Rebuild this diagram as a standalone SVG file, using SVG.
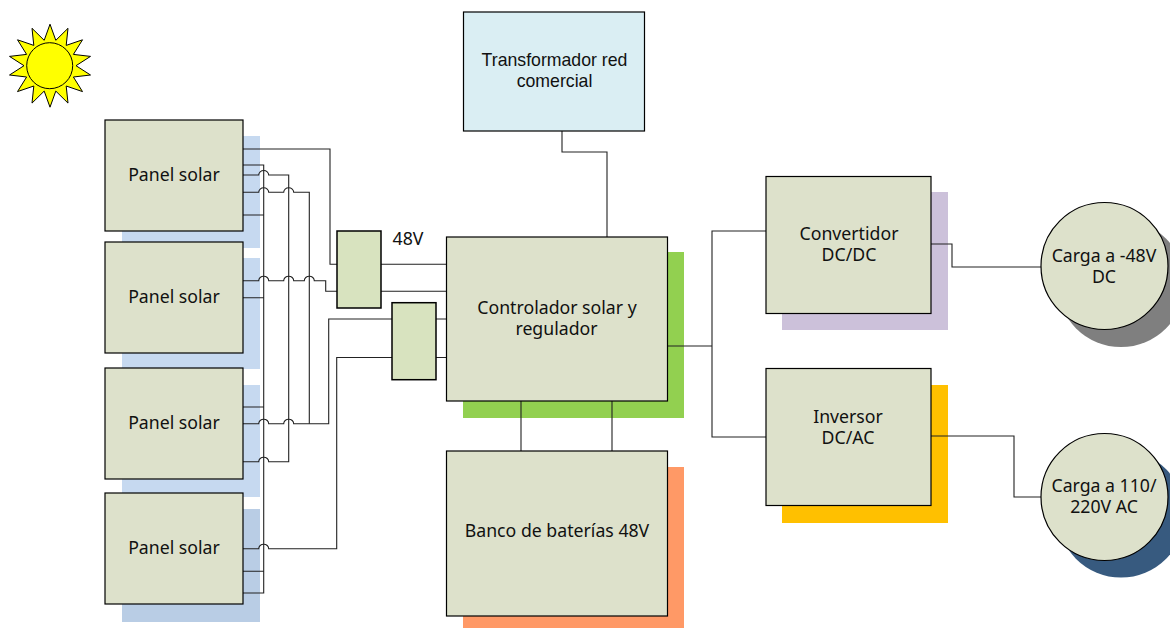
<svg xmlns="http://www.w3.org/2000/svg" width="1170" height="628" viewBox="0 0 1170 628">
<style>
.b{fill:#dde1cb;stroke:#000;stroke-width:1.2}
.g{fill:#d8e3bf;stroke:#000;stroke-width:1.5}
.w{fill:none;stroke:#222;stroke-width:1.1}
text{font-family:"Noto Sans","Open Sans",sans-serif;font-size:17.7px;fill:#111;text-anchor:middle}
.a{font-family:"Liberation Sans",Arial,sans-serif;font-size:17.7px}
</style>
<g id="sun"><polygon fill="#ffff00" stroke="#000" stroke-width="1" points="50,24.200 55.800,40.300 68,28.300 66.200,45.400 82.500,39.800 73.400,54.400 90.500,56.400 76,65.700 90.500,75 73.400,77 82.500,91.600 66.200,86 68,103.100 55.800,91.100 50,107.200 44.200,91.100 32,103.100 33.800,86 17.500,91.600 26.600,77 9.500,75 24,65.700 9.500,56.400 26.600,54.400 17.500,39.800 33.800,45.400 32,28.300 44.200,40.300"/><circle cx="49.700" cy="65.700" r="23" fill="#ffff00" stroke="#000" stroke-width="1"/></g>
<g id="shadows">
<rect x="122" y="136" width="138" height="112" fill="#c6d9f0"/>
<rect x="122" y="258" width="138" height="111" fill="#c6d9f0"/>
<rect x="122" y="385" width="138" height="112" fill="#c6d9f0"/>
<rect x="122" y="509" width="138" height="113" fill="#b9cde5"/>
<rect x="463" y="252" width="221" height="166" fill="#92d050"/>
<rect x="463" y="467" width="221" height="161" fill="#ff9966"/>
<rect x="782" y="192" width="166" height="138" fill="#ccc1da"/>
<rect x="782" y="385" width="166" height="138" fill="#ffc000"/>
<circle cx="1121" cy="283.500" r="63.500" fill="#7f7f7f"/>
<circle cx="1121" cy="514" r="63.500" fill="#375a7f"/>
</g>
<g id="connectors">
<path class="w" d="M243 149H330V264.300H337M243 165H263.700V593H243M243 215H263.700M243 297.700H263.700M243 407H263.700M243 571.300H263.700"/>
<path class="w" d="M243 175H258.700a5 4.500 0 0 1 10 0H288.700V461.700H268.700a5 4.500 0 0 0 -10 0H243"/>
<path class="w" d="M243 192.300H258.700a5 4.500 0 0 1 10 0H283.700a5 4.500 0 0 1 10 0H309.300V423.700"/>
<path class="w" d="M243 280.700H258.700a5 4.500 0 0 1 10 0H283.700a5 4.500 0 0 1 10 0H304.300a5 4.500 0 0 1 10 0H325.700V291.300H337"/>
<path class="w" d="M243 423.700H258.700a5 4.500 0 0 1 10 0H283.700a5 4.500 0 0 1 10 0H328.700V319H392M243 548.700H258.700a5 4.500 0 0 1 10 0H336.700V357.500H392"/>
<path class="w" d="M381 264.300H446M381 291.300H446M436 319H446M436 357.500H446M562 131V152H607V237M521 401V451M612 401V451M667 346H712V231H766M712 346V437H766M931 244H952V267H1041M931 436H1014V497H1041"/>
</g>
<g id="panel1"><rect class="b" x="105" y="120" width="138" height="111"/><text x="174" y="181">Panel solar</text></g>
<g id="panel2"><rect class="b" x="105" y="242" width="138" height="111"/><text x="174" y="303">Panel solar</text></g>
<g id="panel3"><rect class="b" x="105" y="368" width="138" height="111"/><text x="174" y="429">Panel solar</text></g>
<g id="panel4"><rect class="b" x="105" y="493" width="138" height="111"/><text x="174" y="554">Panel solar</text></g>
<g id="box48"><rect class="g" x="337" y="231" width="44" height="77"/></g>
<g id="label48"><text x="408" y="245">48V</text></g>
<g id="box2"><rect class="g" x="392" y="302.700" width="44" height="77"/></g>
<g id="transformador"><rect x="463.500" y="12" width="181" height="119" fill="#daeef3" stroke="#000" stroke-width="1.2"/><text class="a" x="554.500" y="66">Transformador red<tspan x="554.500" dy="21">comercial</tspan></text></g>
<g id="controlador"><rect class="b" x="446.500" y="237" width="221" height="164"/><text x="557" y="314">Controlador solar y<tspan x="556.500" dy="21">regulador</tspan></text></g>
<g id="baterias"><rect class="b" x="446.500" y="451" width="221" height="165"/><text x="557" y="537">Banco de baterías 48V</text></g>
<g id="convertidor"><rect class="b" x="766" y="176.500" width="165" height="137"/><text x="849" y="240">Convertidor<tspan x="849" dy="21">DC/DC</tspan></text></g>
<g id="inversor"><rect class="b" x="766" y="368.500" width="165" height="137"/><text x="848" y="423">Inversor<tspan x="848" dy="21">DC/AC</tspan></text></g>
<g id="carga48"><circle class="b" cx="1104.500" cy="266" r="63.500"/><text x="1104" y="262">Carga a -48V<tspan x="1104" dy="21">DC</tspan></text></g>
<g id="carga110"><circle class="b" cx="1104.500" cy="497" r="63.500"/><text x="1104" y="492">Carga a 110/<tspan x="1104" dy="21">220V AC</tspan></text></g>
</svg>
